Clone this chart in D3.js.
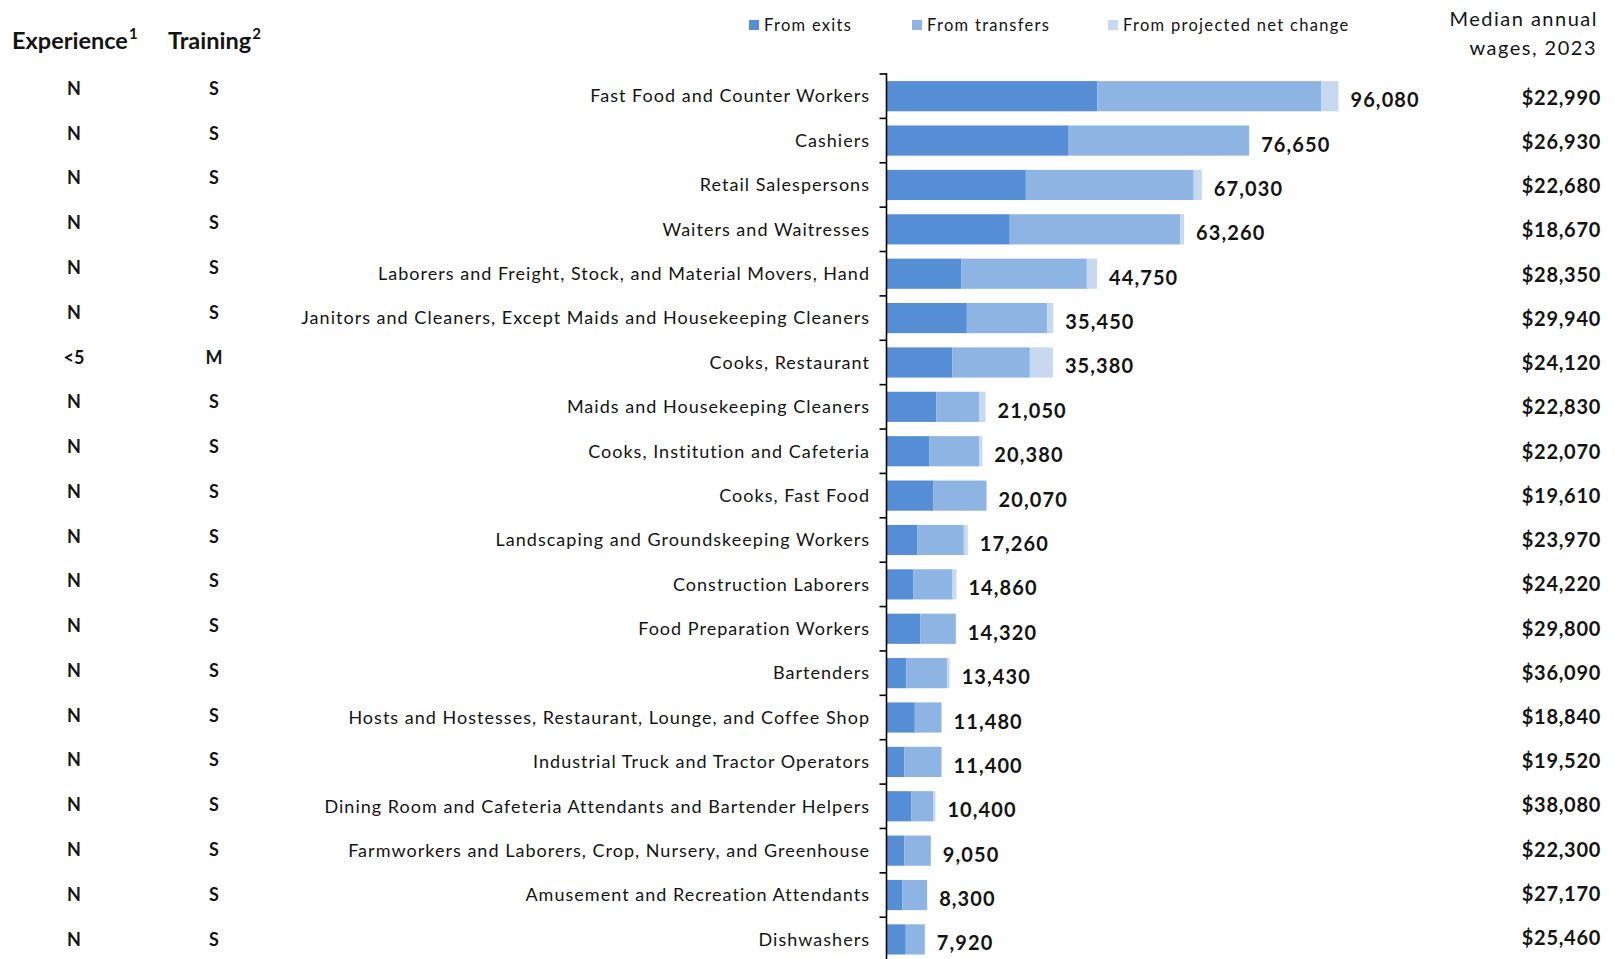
<!DOCTYPE html>
<html>
<head>
<meta charset="utf-8">
<script src="https://cdn.jsdelivr.net/npm/d3@7"></script>
<style>
  body { margin: 0; background: #fff; }
  svg { font-family: Lato, "Open Sans", sans-serif; }
</style>
</head>
<body>
<div id="chart"></div>
<script>
// occupations, largest openings first
var occupations = [
  'Fast Food and Counter Workers',
  'Cashiers',
  'Retail Salespersons',
  'Waiters and Waitresses',
  'Laborers and Freight, Stock, and Material Movers, Hand',
  'Janitors and Cleaners, Except Maids and Housekeeping Cleaners',
  'Cooks, Restaurant',
  'Maids and Housekeeping Cleaners',
  'Cooks, Institution and Cafeteria',
  'Cooks, Fast Food',
  'Landscaping and Groundskeeping Workers',
  'Construction Laborers',
  'Food Preparation Workers',
  'Bartenders',
  'Hosts and Hostesses, Restaurant, Lounge, and Coffee Shop',
  'Industrial Truck and Tractor Operators',
  'Dining Room and Cafeteria Attendants and Bartender Helpers',
  'Farmworkers and Laborers, Crop, Nursery, and Greenhouse',
  'Amusement and Recreation Attendants',
  'Dishwashers'
];
var fromExits = [44810, 38730, 29620, 26200, 15950, 17080, 14040, 10630, 9060, 9910,
                 6510, 5660, 7230, 4250, 6020, 3740, 5320, 3740, 3400, 4100];
var fromTransfers = [47620, 38370, 35680, 36240, 26650, 17100, 16440, 9070, 10640, 11360,
                     9930, 8380, 7510, 8640, 5680, 7960, 4590, 5680, 5240, 4050];
var fromNetChange = [3650, -450, 1730, 820, 2150, 1270, 4900, 1350, 680, -1200,
                     820, 820, -420, 540, -220, -300, 490, -370, -340, -230];
var experience = ['N','N','N','N','N','N','<5','N','N','N','N','N','N','N','N','N','N','N','N','N'];
var training = ['S','S','S','S','S','S','M','S','S','S','S','S','S','S','S','S','S','S','S','S'];
var wages = [22990, 26930, 22680, 18670, 28350, 29940, 24120, 22830, 22070, 19610,
             23970, 24220, 29800, 36090, 18840, 19520, 38080, 22300, 27170, 25460];
var seriesNames = ['From exits', 'From transfers', 'From projected net change'];
var colors = ['#558ed5', '#8eb4e3', '#c6d9f1'];

var width = 1615;
var height = 959;
var axisX = 886.5;
var textColor = '#141414';

var data = occupations.map(function (name, i) {
  return {
    name: name,
    exits: fromExits[i],
    transfers: fromTransfers[i],
    net: Math.max(0, fromNetChange[i]),
    total: fromExits[i] + fromTransfers[i] + fromNetChange[i]
  };
});

var svg = d3.select('#chart')
  .append('svg')
  .attr('width', width)
  .attr('height', height);

var y = d3.scaleBand()
  .domain(occupations)
  .range([74, 74 + 20 * 44.38])
  .paddingInner(0.32)
  .paddingOuter(0.16);

var x = d3.scaleLinear()
  .domain([0, 100000])
  .range([0, 470.4]);

var stack = d3.stack().keys(['exits', 'transfers', 'net']);
var layers = stack(data);

svg.append('g')
  .selectAll('g')
  .data(layers)
  .enter()
  .append('g')
  .attr('fill', function (d, i) { return colors[i]; })
  .selectAll('rect')
  .data(function (d) { return d; })
  .enter()
  .append('rect')
  .attr('x', function (d) { return axisX + x(d[0]); })
  .attr('y', function (d) { return y(d.data.name); })
  .attr('width', function (d) { return x(d[1]) - x(d[0]); })
  .attr('height', y.bandwidth());

// axis line with ticks on band edges
var axis = svg.append('g').attr('stroke', '#000');
axis.append('line')
  .attr('x1', axisX).attr('x2', axisX)
  .attr('y1', 73).attr('y2', height)
  .attr('stroke-width', 1.6);
axis.selectAll('.tick')
  .data(d3.range(occupations.length + 1))
  .enter()
  .append('line')
  .attr('x1', axisX - 7).attr('x2', axisX)
  .attr('y1', function (i) { return y.range()[0] + i * y.step(); })
  .attr('y2', function (i) { return y.range()[0] + i * y.step(); })
  .attr('stroke-width', 1.6);

// category labels
svg.append('g')
  .selectAll('text')
  .data(data)
  .enter()
  .append('text')
  .attr('x', 870)
  .attr('y', function (d) { return y(d.name) + y.bandwidth() / 2; })
  .attr('dy', '0.35em')
  .attr('text-anchor', 'end')
  .attr('font-size', 18)
  .attr('letter-spacing', 1.02)
  .attr('fill', textColor)
  .text(function (d) { return d.name; });

// value labels
var fmt = d3.format(',');
svg.append('g')
  .selectAll('text')
  .data(data)
  .enter()
  .append('text')
  .attr('x', function (d) { return axisX + x(d.exits + d.transfers + d.net) + 12; })
  .attr('y', function (d) { return y(d.name) + y.bandwidth() / 2 + 4; })
  .attr('dy', '0.35em')
  .attr('font-size', 20)
  .attr('font-weight', 'bold')
  .attr('letter-spacing', 1.1)
  .attr('fill', textColor)
  .text(function (d) { return fmt(d.total); });

// left columns
var yCol = function (i) { return 88.6 + i * 44.77; };
svg.append('g')
  .selectAll('text')
  .data(experience)
  .enter()
  .append('text')
  .attr('x', 74)
  .attr('y', function (d, i) { return yCol(i); })
  .attr('dy', '0.35em')
  .attr('text-anchor', 'middle')
  .attr('font-size', 18)
  .attr('font-weight', 'bold')
  .attr('fill', textColor)
  .text(function (d) { return d; });
svg.append('g')
  .selectAll('text')
  .data(training)
  .enter()
  .append('text')
  .attr('x', 214)
  .attr('y', function (d, i) { return yCol(i); })
  .attr('dy', '0.35em')
  .attr('text-anchor', 'middle')
  .attr('font-size', 18)
  .attr('font-weight', 'bold')
  .attr('fill', textColor)
  .text(function (d) { return d; });

var hdr = [['Experience', '1', 12], ['Training', '2', 168]];
hdr.forEach(function (h) {
  var t = svg.append('text')
    .attr('x', h[2])
    .attr('y', 41)
    .attr('dy', '0.35em')
    .attr('font-size', 23.5)
    .attr('font-weight', 'bold')
    .attr('fill', textColor)
    .text(h[0]);
  t.append('tspan')
    .attr('font-size', 15)
    .attr('dx', 1)
    .attr('dy', '-0.7em')
    .text(h[1]);
});

// wages column
var wfmt = d3.format('$,');
svg.append('g')
  .selectAll('text')
  .data(wages)
  .enter()
  .append('text')
  .attr('x', 1601)
  .attr('y', function (d, i) { return 97.8 + i * 44.23; })
  .attr('dy', '0.35em')
  .attr('text-anchor', 'end')
  .attr('font-size', 20)
  .attr('font-weight', 'bold')
  .attr('letter-spacing', 0.7)
  .attr('fill', textColor)
  .text(function (d) { return wfmt(d); });

svg.append('text')
  .attr('x', 1598).attr('y', 19).attr('dy', '0.35em')
  .attr('text-anchor', 'end')
  .attr('font-size', 20)
  .attr('letter-spacing', 1.5)
  .attr('fill', textColor)
  .text('Median annual');
svg.append('text')
  .attr('x', 1597).attr('y', 47.5).attr('dy', '0.35em')
  .attr('text-anchor', 'end')
  .attr('font-size', 20)
  .attr('letter-spacing', 1.5)
  .attr('fill', textColor)
  .text('wages, 2023');

// legend
var legendX = [749, 912, 1108];
var legend = svg.append('g')
  .selectAll('g')
  .data(seriesNames)
  .enter()
  .append('g')
  .attr('transform', function (d, i) { return 'translate(' + legendX[i] + ',25)'; });
legend.append('rect')
  .attr('x', 0).attr('y', -5)
  .attr('width', 10).attr('height', 10)
  .attr('fill', function (d, i) { return colors[i]; });
legend.append('text')
  .attr('x', 15)
  .attr('dy', '0.35em')
  .attr('font-size', 16.5)
  .attr('letter-spacing', 1.3)
  .attr('fill', textColor)
  .text(function (d) { return d; });
</script>
</body>
</html>
